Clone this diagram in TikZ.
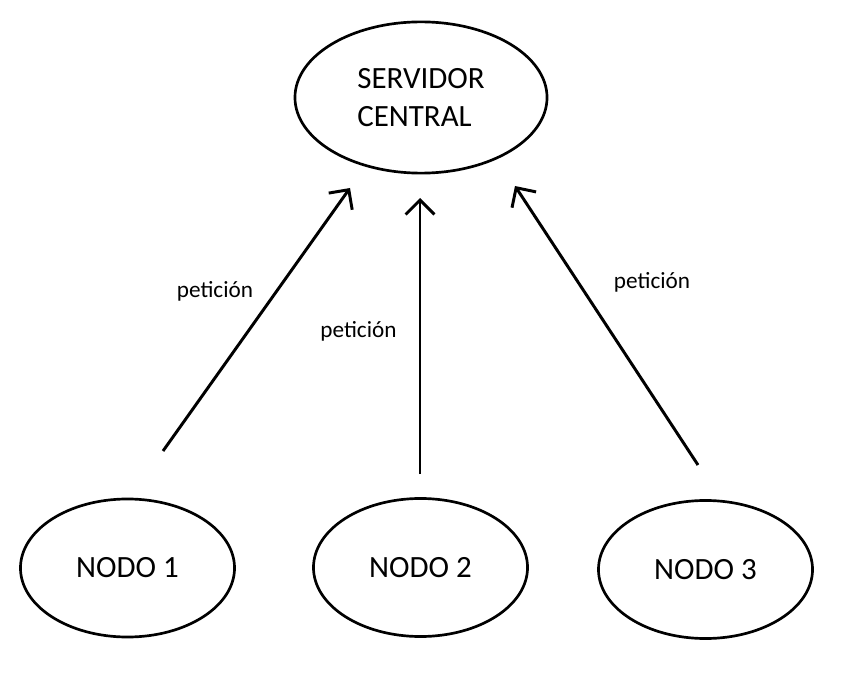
\documentclass[tikz,border=0pt]{standalone}
\usepackage{fontspec}
\setmainfont{Carlito}
\usetikzlibrary{arrows.meta, shapes.geometric}

\begin{document}
\begin{tikzpicture}[
    x=0.025cm, y=-0.025cm,
    >={Straight Barb[length=3.6mm, width=7.2mm]},
    nodo/.style={
        draw, ellipse, line width=1.9pt, inner sep=0pt,
        minimum width=5.35cm, minimum height=3.45cm,
        font=\fontsize{22}{26.5}\selectfont
    },
    servidor/.style={
        nodo, minimum width=6.3cm, minimum height=3.78cm, align=left
    },
    flecha/.style={->, line width=2.1pt},
    etiqueta/.style={font=\fontsize{16.5}{20}\selectfont, anchor=base}
]
\useasboundingbox (0,0) rectangle (848,675);

% === Servidor (arriba) ===
\node[servidor] (central) at (421,97.5) {SERVIDOR\\CENTRAL};

% === Nodos (abajo) ===
\node[nodo] (nodo1) at (127.5,568) {NODO 1};
\node[nodo] (nodo2) at (420.5,567.5) {NODO 2};
\node[nodo] (nodo3) at (705.5,569.5) {NODO 3};

% === Extremos de las flechas ===
\coordinate (ini1) at (163,451);
\coordinate (fin1) at (350,188);
\coordinate (ini2) at (420,474);
\coordinate (fin2) at (420,198);
\coordinate (ini3) at (698,465);
\coordinate (fin3) at (515,186);

% === Peticiones ===
\draw[flecha] (ini1) -- (fin1);
\draw[flecha] (ini2) -- (fin2);
\draw[flecha] (ini3) -- (fin3);

\node[etiqueta] (pet1) at (215,298) {petición};
\node[etiqueta] (pet2) at (358.5,337) {petición};
\node[etiqueta] (pet3) at (652,288) {petición};

\end{tikzpicture}
\end{document}
